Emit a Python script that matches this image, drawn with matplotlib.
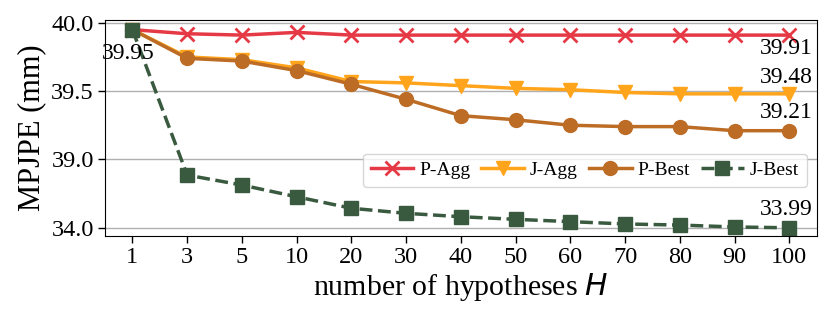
import matplotlib
matplotlib.use('Agg')
import numpy as np
import matplotlib.pyplot as plt

plt.rcParams['font.family'] = ['Liberation Serif', 'DejaVu Serif']

# ============================================================
# DATA
# ============================================================
hyp_labels = ['1', '3', '5', '10', '20', '30', '40', '50', '60', '70', '80', '90', '100']
p_agg  = [39.95, 39.92, 39.91, 39.93, 39.91, 39.91, 39.91, 39.91, 39.91, 39.91, 39.91, 39.91, 39.91]
j_agg  = [39.95, 39.75, 39.73, 39.67, 39.57, 39.56, 39.54, 39.52, 39.51, 39.49, 39.48, 39.48, 39.48]
p_best = [39.95, 39.74, 39.72, 39.65, 39.55, 39.44, 39.32, 39.29, 39.25, 39.24, 39.24, 39.21, 39.21]
j_best = [39.95, 37.85, 37.12, 36.26, 35.42, 35.05, 34.80, 34.61, 34.44, 34.27, 34.19, 34.05, 33.99]

y_ticks = [34.0, 39.0, 39.5, 40.0]


# broken axis: below 39 everything is squeezed 10x
def fwd(v):
    v = np.asarray(v, dtype=float)
    return np.where(v >= 39, v, 39 - (39 - v) / 10)


def inv(t):
    t = np.asarray(t, dtype=float)
    return np.where(t >= 39, t, 39 - (39 - t) * 10)


x = np.arange(len(hyp_labels))

fig, ax = plt.subplots(figsize=(8.31, 3.24), dpi=100)
fig.subplots_adjust(left=0.1264, right=0.9828, top=0.938, bottom=0.2725)

ax.set_yscale('function', functions=(fwd, inv))

ax.plot(x, p_agg, color='#e63946', marker='x', ms=10, mew=2, lw=2.5, label='P-Agg')
ax.plot(x, j_agg, color='#ffa41b', marker='v', ms=10, lw=2.5, label='J-Agg')
ax.plot(x, p_best, color='#bc6c25', marker='o', ms=10, lw=2.5, label='P-Best')
ax.plot(x, j_best, color='#3a5a40', marker='s', ms=10, lw=2.5, ls='--', label='J-Best')

fs_ann = 17
ax.annotate(f'{j_best[0]:.2f}', (x[0], j_best[0]), xytext=(-3, -17), textcoords='offset points',
            ha='center', va='center', fontsize=fs_ann)
ax.annotate(f'{p_agg[-1]:.2f}', (x[-1], p_agg[-1]), xytext=(-2, -10), textcoords='offset points',
            ha='center', va='center', fontsize=fs_ann)
ax.annotate(f'{j_agg[-1]:.2f}', (x[-1], j_agg[-1]), xytext=(-2, 11.5), textcoords='offset points',
            ha='center', va='center', fontsize=fs_ann)
ax.annotate(f'{p_best[-1]:.2f}', (x[-1], p_best[-1]), xytext=(-2, 13), textcoords='offset points',
            ha='center', va='center', fontsize=fs_ann)
ax.annotate(f'{j_best[-1]:.2f}', (x[-1], j_best[-1]), xytext=(-2, 13.5), textcoords='offset points',
            ha='center', va='center', fontsize=fs_ann)

ax.set_xlim(-0.5, len(x) - 0.5)
ax.set_ylim(33.41, 40.02)
ax.set_xticks(x)
ax.set_xticklabels(hyp_labels)
ax.set_yticks(y_ticks)
ax.set_yticklabels([f'{v:.1f}' for v in y_ticks])
ax.minorticks_off()
ax.tick_params(labelsize=17.5, length=5, width=1, pad=3)
ax.yaxis.grid(True, color='#b0b0b0', lw=1)
ax.set_axisbelow(True)

ax.set_xlabel('number of hypotheses $H$', fontsize=21.5, labelpad=2)
ax.set_ylabel('MPJPE (mm)', fontsize=22, labelpad=4)

ax.legend(ncol=4, loc='lower right', bbox_to_anchor=(0.986, 0.227), borderaxespad=0,
          fontsize=14, handlelength=2.2, handletextpad=0.3, columnspacing=0.57,
          numpoints=1, fancybox=True)

plt.savefig('out.png', dpi=100)
plt.close()
